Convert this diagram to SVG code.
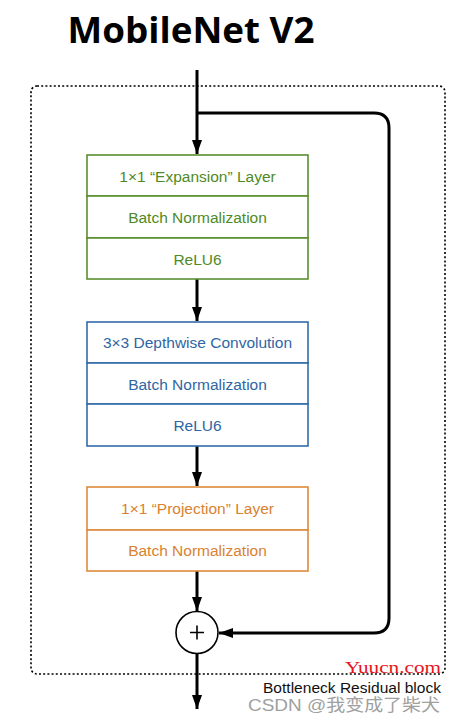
<svg xmlns="http://www.w3.org/2000/svg" width="454" height="723" viewBox="0 0 454 723">
<style>
.row{fill:#fff;stroke-width:1.6}
.g .row{stroke:#5a8f2f}
.b .row{stroke:#336ca8}
.o .row{stroke:#dc8a3c}
.lbl{font-family:"Liberation Sans",Arial,sans-serif;font-size:15.5px;text-anchor:middle}
.g .lbl{fill:#4f8a26}
.b .lbl{fill:#2f66a3}
.o .lbl{fill:#d9822f}
.wire{fill:none;stroke:#000;stroke-width:3}
</style>
<defs>
<marker id="ah" viewBox="0 0 14 10" refX="14" refY="5" markerWidth="4.7" markerHeight="3.4" markerUnits="strokeWidth" orient="auto">
<path d="M0,0 L14,5 L0,10 z" fill="#000"/>
</marker>
</defs>
<rect width="454" height="723" fill="#fff"/>
<text x="191" y="43" font-family="'Open Sans','Noto Sans',sans-serif" font-weight="bold" font-size="36" text-anchor="middle" textLength="247" lengthAdjust="spacingAndGlyphs">MobileNet V2</text>
<rect id="block" x="31" y="86" width="414" height="588" rx="6" fill="none" stroke="#000" stroke-width="1.6" stroke-dasharray="2 2.2"/>
<g id="connectors">
<path class="wire" d="M197,70 L197,154" marker-end="url(#ah)"/>
<path class="wire" d="M197,113 L374,113 Q389,113 389,128 L389,618 Q389,633 374,633 L219,633" marker-end="url(#ah)"/>
<path class="wire" d="M197,279 L197,321" marker-end="url(#ah)"/>
<path class="wire" d="M197,446 L197,486" marker-end="url(#ah)"/>
<path class="wire" d="M197,571 L197,611" marker-end="url(#ah)"/>
<path class="wire" d="M197,653 L197,709" marker-end="url(#ah)"/>
</g>
<g id="expansion" class="g">
<rect class="row" x="87" y="155" width="221" height="41"/>
<rect class="row" x="87" y="196" width="221" height="42"/>
<rect class="row" x="87" y="238" width="221" height="41"/>
<text class="lbl" x="197.5" y="181.5">1×1 “Expansion” Layer</text>
<text class="lbl" x="197.5" y="223">Batch Normalization</text>
<text class="lbl" x="197.5" y="264.5">ReLU6</text>
</g>
<g id="depthwise" class="b">
<rect class="row" x="87" y="322" width="221" height="41"/>
<rect class="row" x="87" y="363" width="221" height="41"/>
<rect class="row" x="87" y="404" width="221" height="42"/>
<text class="lbl" x="197.5" y="348">3×3 Depthwise Convolution</text>
<text class="lbl" x="197.5" y="389.5">Batch Normalization</text>
<text class="lbl" x="197.5" y="431">ReLU6</text>
</g>
<g id="projection" class="o">
<rect class="row" x="87" y="487" width="221" height="43"/>
<rect class="row" x="87" y="530" width="221" height="41"/>
<text class="lbl" x="197.5" y="514">1×1 “Projection” Layer</text>
<text class="lbl" x="197.5" y="556">Batch Normalization</text>
</g>
<g id="add">
<circle cx="197" cy="632.5" r="21" fill="#fff" stroke="#000" stroke-width="1.6"/>
<path d="M190,632.5 H204 M197,625.5 V639.5" stroke="#000" stroke-width="1.6"/>
</g>
<text x="441" y="673" font-family="'Liberation Serif',serif" font-size="17" fill="#e8141c" text-anchor="end" textLength="96" lengthAdjust="spacingAndGlyphs">Yuucn.com</text>
<text x="441" y="693" font-family="'Liberation Sans',Arial,sans-serif" font-size="15.5" fill="#111" text-anchor="end" textLength="178" lengthAdjust="spacingAndGlyphs">Bottleneck Residual block</text>
<text x="440" y="711" font-family="'Liberation Sans','Noto Sans CJK SC',sans-serif" font-size="17" fill="#a0a0a0" text-anchor="end" textLength="192" lengthAdjust="spacingAndGlyphs">CSDN @我变成了柴犬</text>
</svg>
